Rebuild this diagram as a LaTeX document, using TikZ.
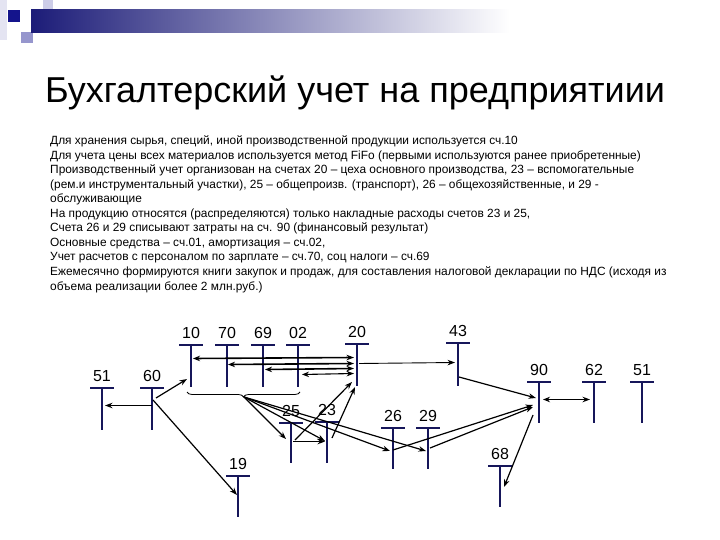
\documentclass[tikz,border=0pt]{standalone}
\usepackage{fontspec}
\setmainfont{Liberation Sans}
\usetikzlibrary{calc,arrows.meta,decorations.pathreplacing}
\definecolor{tcol}{RGB}{22,22,90}
\definecolor{barL}{RGB}{28,28,120}
\definecolor{barM}{RGB}{170,170,195}
\definecolor{sqdark}{RGB}{20,20,140}
\definecolor{sqlight}{RGB}{205,205,232}
\definecolor{sqmid}{RGB}{150,150,205}
\definecolor{sqpale}{RGB}{228,228,242}
\newcommand\taccount[5]{%
  \coordinate (t#1) at (#2,#3);
  \draw[tline] (#2-12,#3) -- (#2+12,#3);
  \draw[tline] (#2,#3) -- (#2,#3+#4);
  \node[lab] (l#1) at (#2,#3-7) {#5};}
\begin{document}
\begin{tikzpicture}[x=1bp,y=-1bp,
  tline/.style={draw=tcol,line width=2.6bp},
  lab/.style={anchor=base,inner sep=0pt,font=\fontsize{16bp}{18bp}\selectfont},
  arr/.style={-{Stealth[length=7.5bp,width=5.5bp]},line width=1.2bp,black},
  thinarr/.style={-{Stealth[length=7.5bp,width=5.5bp]},line width=0.9bp,black},
  darr/.style={{Stealth[length=7bp,width=5.5bp]}-{Stealth[length=7.5bp,width=5.5bp]},line width=1.6bp,black},
  body/.style={anchor=base west,inner sep=0pt,font=\fontsize{11.9bp}{14.5bp}\selectfont},
  bracestyle/.style={draw=black,line width=0.8bp,decorate,decoration={brace,mirror,amplitude=5bp}},
]
\useasboundingbox (0,0) rectangle (720,540);
% header decoration
\fill[sqpale] (0,0) rectangle (7,40);
\fill[sqlight] (32,10) rectangle (43,32);
\fill[sqlight] (43,0) rectangle (53,22);
\fill[sqmid] (21,32) rectangle (33,43);
\fill[sqdark] (8,10) rectangle (20,22);
\shade[left color=barL, middle color=barM, right color=white] (31,10) rectangle (510,33);
% title
\node[anchor=base,inner sep=0pt,font=\fontsize{36bp}{42bp}\selectfont] (title) at (355,103) {Бухгалтерский учет на предприятиии};
% body text
\node[body] (txt1) at (50,145) {Для хранения сырья, специй, иной производственной продукции используется сч.10};
\node[body] (txt2) at (50,159.5) {Для учета цены всех материалов используется метод FiFo (первыми используются ранее приобретенные)};
\node[body] (txt3) at (50,174) {Производственный учет организован на счетах 20 – цеха основного производства, 23 – вспомогательные};
\node[body] (txt4) at (50,188.5) {(рем.и инструментальный участки), 25 – общепроизв. (транспорт), 26 – общехозяйственные, и 29 -};
\node[body] (txt5) at (50,203) {обслуживающие};
\node[body] (txt6) at (50,217.5) {На продукцию относятся (распределяются) только накладные расходы счетов 23 и 25,};
\node[body] (txt7) at (50,232) {Счета 26 и 29 списывают затраты на сч. 90 (финансовый результат)};
\node[body] (txt8) at (50,246.5) {Основные средства – сч.01, амортизация – сч.02,};
\node[body] (txt9) at (50,261) {Учет расчетов с персоналом по зарплате – сч.70, соц налоги – сч.69};
\node[body] (txt10) at (50,275.5) {Ежемесячно формируются книги закупок и продаж, для составления налоговой декларации по НДС (исходя из};
\node[body] (txt11) at (50,290) {объема реализации более 2 млн.руб.)};
% T accounts
\taccount{10}{191}{345}{42}{10}
\taccount{70}{227}{345}{42}{70}
\taccount{69}{263}{345}{42}{69}
\taccount{02}{298}{345}{42}{02}
\taccount{20}{357}{344}{42}{20}
\taccount{43}{458}{343}{43}{43}
\taccount{51a}{102}{388}{42}{51}
\taccount{60}{152}{388}{42}{60}
\taccount{90}{539}{382}{41}{90}
\taccount{62}{594}{382}{41}{62}
\taccount{51b}{642}{382}{41}{51}
\taccount{25}{291}{423}{40}{25}
\taccount{23}{327}{422}{41}{23}
\taccount{26}{393}{428}{41}{26}
\taccount{29}{428}{428}{41}{29}
\taccount{19}{238}{476}{41}{19}
\taccount{68}{500}{466}{41}{68}
% brace under 10..02
\draw[bracestyle] (187,392) -- (300,392);
\coordinate (bt) at (244,397);
% connectors
\draw[darr] ($(t10)+(2,13.5)$) -- ($(t20)+(-3,13.5)$);
\draw[darr] ($(t70)+(1,19.5)$) -- ($(t20)+(-3,19.5)$);
\draw[darr] ($(t69)+(2,24.5)$) -- ($(t20)+(-3,24.5)$);
\draw[darr,line width=1.1bp] ($(t02)+(4,29.5)$) -- ($(t20)+(-3,29.5)$);
\draw[thinarr] ($(t20)+(2,19.5)$) -- ($(t43)+(-3,19.5)$);
\draw[arr] ($(t43)+(1,34)$) -- ($(t90)+(-3,16)$);
\draw[darr,line width=1.1bp] ($(t90)+(4,17.5)$) -- ($(t62)+(-4,17.5)$);
\draw[arr] ($(t60)+(4,10)$) -- ($(t10)+(-4,34)$);
\draw[arr] ($(t60)+(0,17.5)$) -- ($(t51a)+(3,17.5)$);
\draw[arr] ($(t60)+(1,12)$) -- ($(t19)+(-1,19)$);
\draw[arr] (bt) -- ($(t25)+(-5,16)$);
\draw[arr] (bt) -- ($(t23)+(-2,19)$);
\draw[arr] (bt) -- ($(t26)+(-3,23)$);
\draw[arr] (bt) -- ($(t29)+(-2,23)$);
\draw[arr] ($(t25)+(2,18.5)$) -- ($(t23)+(-2,19.5)$);
\draw[arr] ($(t25)+(4,17)$) -- ($(t20)+(-5,38)$);
\draw[arr] ($(t23)+(5,16)$) -- ($(t20)+(-2,43)$);
\draw[arr] ($(t26)+(0,22)$) -- ($(t90)+(-6,23)$);
\draw[arr] ($(t29)+(2,20)$) -- ($(t90)+(-6,25)$);
\draw[arr] ($(t90)+(-6,33)$) -- ($(t68)+(4,21)$);
\end{tikzpicture}
\end{document}
